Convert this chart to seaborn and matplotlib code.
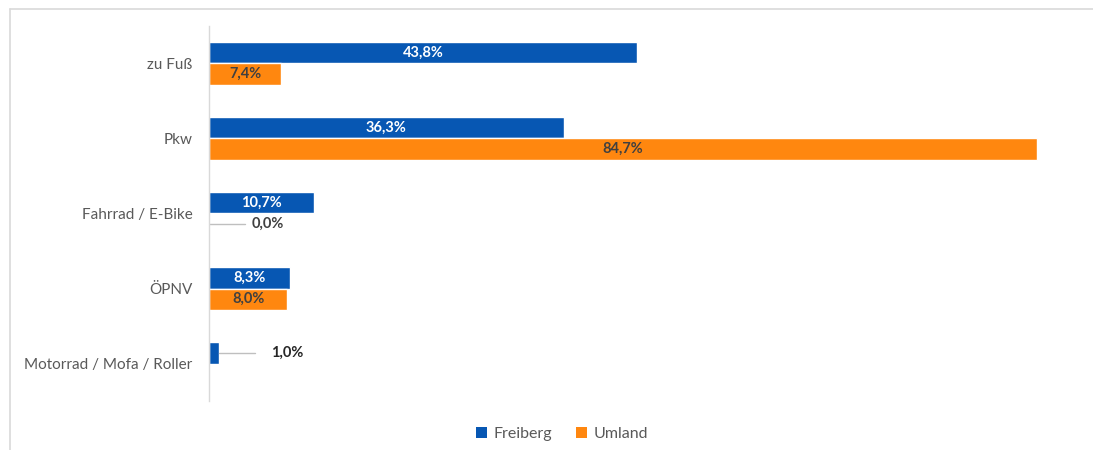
import matplotlib
matplotlib.use("Agg")
import matplotlib.pyplot as plt
from matplotlib.lines import Line2D
from matplotlib.patches import Patch
import seaborn as sns
import pandas as pd
import numpy as np

# Verkehrsmittelwahl nach Wohnort
categories = ["zu Fuß", "Pkw", "Fahrrad / E-Bike", "ÖPNV", "Motorrad / Mofa / Roller"]
freiberg = [43.8, 36.3, 10.7, 8.3, 1.0]
umland = [7.4, 84.7, 0.0, 8.0, np.nan]
series = ["Freiberg", "Umland"]
colors = ["#0757B3", "#FF870F"]

df = pd.DataFrame({
    "Verkehrsmittel": categories * 2,
    "Anteil": freiberg + umland,
    "Gruppe": [series[0]] * len(categories) + [series[1]] * len(categories),
})

sns.set_theme(style="white")
plt.rcParams["font.family"] = ["Lato", "DejaVu Sans"]

fig = plt.figure(figsize=(10.93, 4.5), dpi=100)
ax = fig.add_axes([209 / 1093, 1 - 401 / 450, 880 / 1093, 375 / 450])

sns.barplot(data=df, x="Anteil", y="Verkehrsmittel", hue="Gruppe",
            order=categories, hue_order=series, palette=colors,
            width=0.57, orient="h", ax=ax, legend=False, saturation=1)

ax.set_xlim(0, 90)
ax.set_ylim(len(categories) - 0.5, -0.5)
ax.set_xlabel("")
ax.set_ylabel("")
ax.set_xticks([])
for s in ["top", "right", "bottom"]:
    ax.spines[s].set_visible(False)
ax.spines["left"].set_color("#D9D9D9")
ax.spines["left"].set_linewidth(1.0)

ax.set_yticks(range(len(categories)))
ax.set_yticklabels(categories, color="#595959", fontsize=11)
ax.tick_params(axis="y", length=0, pad=12)
ax.set_yticks(np.arange(-0.5, len(categories), 1), minor=True)
ax.tick_params(axis="y", which="minor", length=5, color="#D9D9D9", width=1)

# value labels
bar_h = 0.57 / 2
for i, cat in enumerate(categories):
    for j, (vals, col) in enumerate([(freiberg, "white"), (umland, "#404040")]):
        v = vals[i]
        if np.isnan(v):
            continue
        y = i + (j - 0.5) * bar_h
        txt = f"{v:.1f}%".replace(".", ",")
        if v >= 5:
            ax.text(v / 2, y, txt, ha="center", va="center", color=col,
                    fontsize=10.5, fontweight="bold")
        else:
            # small values: leader line to an outside label
            lx = 8.0 if v > 0 else 6.0
            ax.plot([v, lx - 2.3 - (1.0 if v > 0 else 0)], [y, y], color="#BFBFBF", lw=1)
            ax.text(lx, y, txt, ha="center", va="center",
                    color="#262626" if v > 0 else "#404040",
                    fontsize=10.5, fontweight="bold")

handles = [Patch(facecolor=c, edgecolor="none") for c in colors]
fig.legend(handles, series, loc="center", bbox_to_anchor=(562 / 1093, 1 - 434 / 450),
           ncol=2, frameon=False, fontsize=11.5, handlelength=0.7, handleheight=0.7,
           handletextpad=0.4, columnspacing=1.5, labelcolor="#595959")

# outer chart frame
fig.add_artist(Line2D([10 / 1093, 1], [1 - 9 / 450, 1 - 9 / 450], color="#D9D9D9", lw=1.2,
                      transform=fig.transFigure))
fig.add_artist(Line2D([10 / 1093, 10 / 1093], [0, 1 - 9 / 450], color="#D9D9D9", lw=1.2,
                      transform=fig.transFigure))

fig.savefig("out.png", dpi=100)
